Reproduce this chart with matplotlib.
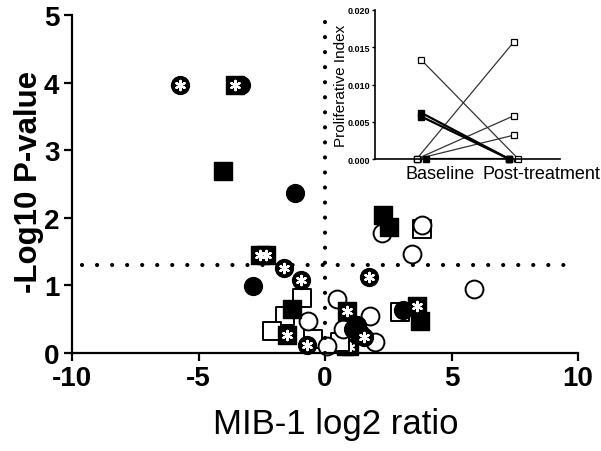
import matplotlib
matplotlib.use("Agg")
import matplotlib.pyplot as plt

plt.rcParams['font.family'] = ['Liberation Sans', 'DejaVu Sans']

# main volcano plot, one list pair per marker type (log2 ratio, -log10 p)
open_sq_x = [3.82, -0.92, -1.58, -2.11, -0.46, 2.96, 0.60]
open_sq_y = [1.84, 0.82, 0.55, 0.33, 0.21, 0.60, 0.16]

open_ci_x = [2.24, 3.82, 3.43, 5.89, 0.46, 1.78, 0.72, 1.98, 0.07, -0.67]
open_ci_y = [1.78, 1.90, 1.47, 0.94, 0.80, 0.55, 0.35, 0.17, 0.10, 0.48]

fill_ci_x = [-3.32, -1.19, -2.86, 3.10, 1.12, 1.25, 1.40]
fill_ci_y = [3.97, 2.36, 0.99, 0.63, 0.35, 0.42, 0.30]

fill_sq_x = [-4.02, 2.28, 2.54, 3.75, -1.32]
fill_sq_y = [2.69, 2.04, 1.87, 0.48, 0.65]

star_ci_x = [-5.73, -1.62, -0.96, 1.75, -0.72, 1.54]
star_ci_y = [3.97, 1.26, 1.08, 1.13, 0.12, 0.23]

star_sq_x = [-3.56, -2.55, -2.35, 0.86, 3.62, -1.51]
star_sq_y = [3.97, 1.45, 1.45, 0.62, 0.70, 0.26]

# partly hidden star squares under the cluster near zero
hidden_sq_x = [0.80, 1.00]
hidden_sq_y = [0.09, 0.09]

# inset: proliferative index, baseline -> post-treatment
inset_labels = ['Baseline', 'Post-treatment']
open_base = [0.0133, 0.0, 0.0, 0.0]
open_post = [0.0, 0.0157, 0.0058, 0.0032]
fill_base = [0.0062, 0.0057, 0.0]
fill_post = [0.0, 0.0, 0.0]

fig = plt.figure(figsize=(6.01, 4.52), dpi=100)
ax = fig.add_axes([72 / 601, 1 - 354 / 452, 506 / 601, 338 / 452])

ax.scatter(hidden_sq_x, hidden_sq_y, s=130, marker='s', color='black', zorder=1.5, clip_on=False)
ax.scatter(hidden_sq_x, hidden_sq_y, s=35, marker=(6, 2, 0), color='white', linewidth=1.4, zorder=1.5, clip_on=False)
ax.scatter(open_sq_x, open_sq_y, s=175, marker='s', facecolor='white', edgecolor='black', linewidth=1.4, zorder=2, clip_on=False)
ax.scatter(open_ci_x, open_ci_y, s=165, marker='o', facecolor='white', edgecolor='black', linewidth=1.4, zorder=2, clip_on=False)
ax.scatter(fill_ci_x, fill_ci_y, s=165, marker='o', color='black', zorder=2, clip_on=False)
ax.scatter(fill_sq_x, fill_sq_y, s=175, marker='s', color='black', zorder=2, clip_on=False)
ax.scatter(star_ci_x, star_ci_y, s=165, marker='o', color='black', zorder=2, clip_on=False)
ax.scatter(star_ci_x, star_ci_y, s=45, marker=(6, 2, 0), color='white', linewidth=1.6, zorder=2, clip_on=False)
ax.scatter(star_sq_x, star_sq_y, s=175, marker='s', color='black', zorder=2, clip_on=False)
ax.scatter(star_sq_x, star_sq_y, s=45, marker=(6, 2, 0), color='white', linewidth=1.6, zorder=2, clip_on=False)

# significance thresholds
ax.axhline(1.3, xmin=0.02, color='black', linewidth=3, linestyle=(0, (0.01, 3.6)), dash_capstyle='round', zorder=3)
ax.axvline(0, color='black', linewidth=3, linestyle=(0, (0.01, 3.6)), dash_capstyle='round', zorder=3)

ax.set_xlim(-10, 10)
ax.set_ylim(0, 5)
ax.set_xticks([-10, -5, 0, 5, 10])
ax.set_yticks([0, 1, 2, 3, 4, 5])
for s in ['top', 'right']:
    ax.spines[s].set_visible(False)
for s in ['left', 'bottom']:
    ax.spines[s].set_linewidth(1.6)
ax.tick_params(width=1.6, length=6, labelsize=20, pad=3)
ax.set_xticklabels(['-10', '-5', '0', '5', '10'])
for lab in ax.get_xticklabels() + ax.get_yticklabels():
    lab.set_fontweight('bold')
ax.set_xlabel('MIB-1 log2 ratio', fontsize=25, labelpad=10)
ax.xaxis.set_label_coords(0.522, -0.16)
ax.set_ylabel('-Log10 P-value', fontsize=22.5, fontweight='bold')
ax.yaxis.set_label_coords(-0.055, 0.51)

# inset
ins = fig.add_axes([375 / 601, 1 - 160 / 452, 185 / 601, 149 / 452])
ins.patch.set_alpha(0)
for b, p in zip(open_base, open_post):
    xb = -0.05 if b == 0 else 0
    xp = 0.05 if p == 0 else 0
    ins.plot([xb, 1 + xp], [b, p], color='#333333', linewidth=0.9, zorder=1)
for b, p in zip(fill_base, fill_post):
    xb = 0.05 if b == 0 else 0
    ins.plot([xb, 0.95], [b, p], color='black', linewidth=1.6, zorder=1)
for b, p in zip(open_base, open_post):
    xb = -0.05 if b == 0 else 0
    xp = 0.05 if p == 0 else 0
    ins.plot([xb, 1 + xp], [b, p], linestyle='none', marker='s', markersize=5, markerfacecolor='white', markeredgecolor='black', markeredgewidth=0.9, clip_on=False, zorder=2)
for b, p in zip(fill_base, fill_post):
    xb = 0.05 if b == 0 else 0
    ins.plot([xb, 0.95], [b, p], linestyle='none', marker='s', markersize=5, color='black', clip_on=False, zorder=2)

ins.set_xlim(-0.5, 1.5)
ins.set_ylim(0, 0.020)
ins.set_yticks([0, 0.005, 0.010, 0.015, 0.020])
ins.set_yticklabels(['0.000', '0.005', '0.010', '0.015', '0.020'], fontsize=6.5, fontweight='bold')
ins.set_xticks([0, 1])
ins.set_xticklabels([])
ins.tick_params(axis='y', length=2.5, width=1, pad=1)
ins.tick_params(axis='x', length=2, width=0.8)
for s in ['top', 'right']:
    ins.spines[s].set_visible(False)
for s in ['left', 'bottom']:
    ins.spines[s].set_linewidth(1.2)
ins.set_ylabel('Proliferative Index', fontsize=11, labelpad=0)
ins.text(-0.17, -0.0008, inset_labels[0], fontsize=13, ha='left', va='top')
ins.text(0.66, -0.0008, inset_labels[1], fontsize=13, ha='left', va='top')

fig.savefig('out.png', dpi=100)
